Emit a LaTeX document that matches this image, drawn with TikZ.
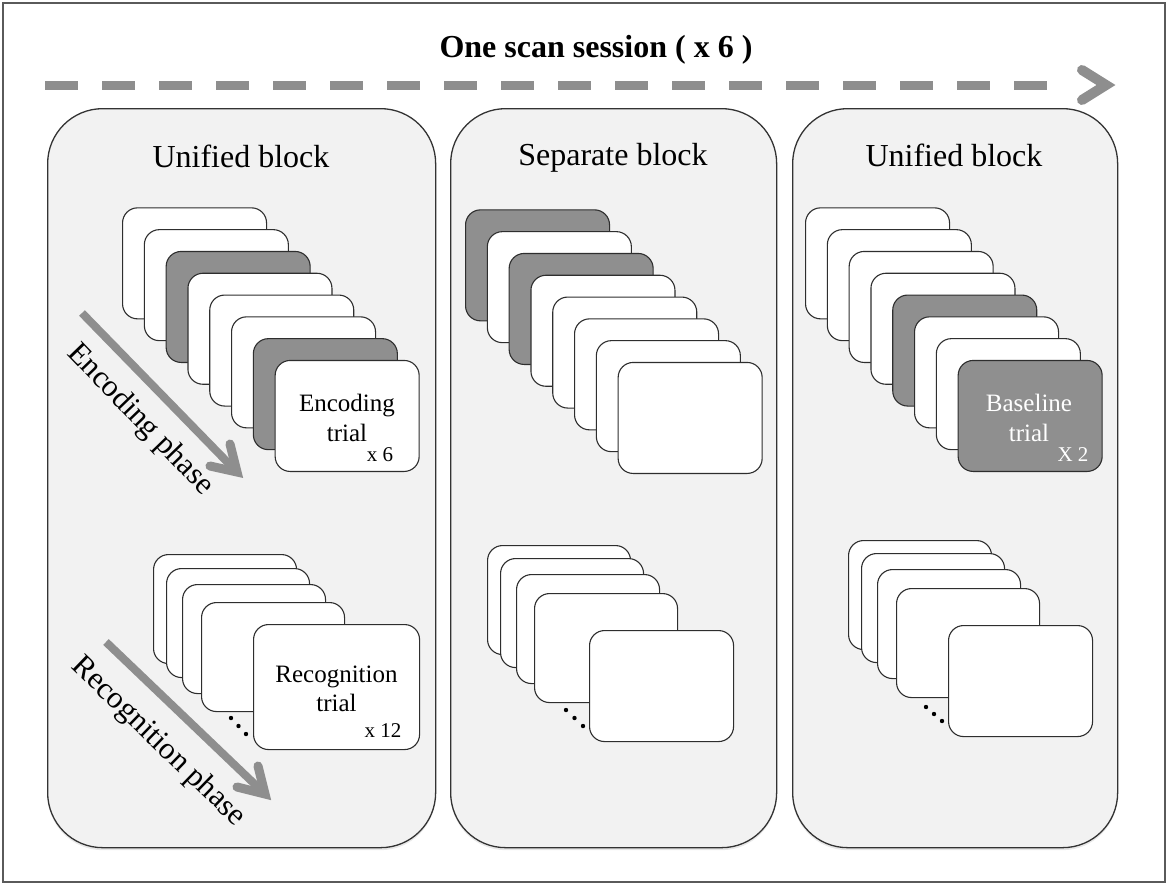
\documentclass[tikz,border=0pt]{standalone}
\usepackage{fontspec}
\setmainfont{Liberation Serif}
\usetikzlibrary{calc,shadows}
\definecolor{panelfill}{HTML}{F2F2F2}
\definecolor{panelline}{HTML}{333333}
\definecolor{cardline}{HTML}{2E2E2E}
\definecolor{cardgray}{HTML}{8F8F8F}
\definecolor{arrowgray}{HTML}{8E8E8E}
\definecolor{framegray}{HTML}{5A5A5A}
\begin{document}
\begin{tikzpicture}[x=1pt,y=-1pt,
  frame/.style={draw=framegray, line width=2pt},
  panel/.style={draw=panelline, line width=1.3pt, fill=panelfill, rounded corners=55pt,
    inner sep=0pt, anchor=north west,
    drop shadow={opacity=0.18, shadow xshift=0pt, shadow yshift=-2.5pt}},
  card/.style={draw=cardline, line width=1.1pt, rounded corners=15pt, minimum width=144pt,
    minimum height=111pt, inner sep=0pt, anchor=north west, fill=white},
  backcard/.style={card, minimum width=143pt, minimum height=109pt},
  bigcard/.style={card, minimum width=166pt, minimum height=125pt},
  graycard/.style={card, fill=cardgray},
  maintitle/.style={font=\fontsize{32}{36}\selectfont\bfseries, inner sep=0pt, anchor=base},
  paneltitle/.style={font=\fontsize{32}{36}\selectfont, inner sep=0pt, anchor=base},
  cardtext/.style={font=\fontsize{25}{28}\selectfont, inner sep=0pt, anchor=base},
  multtext/.style={font=\fontsize{21}{24}\selectfont, inner sep=0pt, anchor=base},
  phasetext/.style={font=\fontsize{31}{34}\selectfont, inner sep=0pt},
  sessline/.style={draw=arrowgray, line width=9pt, dash pattern=on 33pt off 24pt},
  sesshead/.style={draw=arrowgray, line width=10pt, line cap=round, line join=miter},
  phaseline/.style={draw=arrowgray, line width=8pt},
  phasehead/.style={draw=arrowgray, line width=9pt, line cap=round, line join=miter},
  dot/.style={fill=black}
]
\useasboundingbox (0,0) rectangle (1168,884);
\draw[frame] (3,3) rectangle (1165,882);

% title and session arrow
\node[maintitle] (title) at (596,57) {One scan session ( x 6 )};
\coordinate (sessA) at (45,85);
\coordinate (sessB) at (1050,85);
\coordinate (sessTip) at (1106,85);
\draw[sessline] (sessA) -- (sessB);
\draw[sesshead] ($(sessTip)+(-24,-15)$) -- (sessTip) -- ($(sessTip)+(-24,15)$);

% panels
\node[panel, minimum width=388pt, minimum height=739pt] (pan1) at (47,108) {};
\node[panel, minimum width=326pt, minimum height=739pt] (pan2) at (450,108) {};
\node[panel, minimum width=325pt, minimum height=739pt] (pan3) at (792,108) {};
\node[paneltitle] (t1) at (241,167) {Unified block};
\node[paneltitle] (t2) at (613,165) {Separate block};
\node[paneltitle] (t3) at (954,166) {Unified block};

% panel 1 upper stack
\node[card]     (a1) at (122.0,207.3) {};
\node[card]     (a2) at (143.8,229.1) {};
\node[graycard] (a3) at (165.6,250.9) {};
\node[card]     (a4) at (187.4,272.7) {};
\node[card]     (a5) at (209.2,294.5) {};
\node[card]     (a6) at (231.0,316.3) {};
\node[graycard] (a7) at (252.8,338.1) {};
\node[card]     (a8) at (274.6,359.9) {};
\node[cardtext] (a8l1) at (347,411.5) {Encoding};
\node[cardtext] (a8l2) at (347,441.5) {trial};
\node[multtext] (a8l3) at (380,461) {x 6};

% panel 1 lower stack
\node[backcard] (b1) at (153,554) {};
\node[backcard] (b2) at (166,568) {};
\node[backcard] (b3) at (182,584) {};
\node[backcard] (b4) at (201,602) {};
\fill[dot] (231,718) circle (2.2) (238.5,726) circle (2.2) (246,734) circle (2.2);
\node[bigcard] (b5) at (253,624) {};
\node[cardtext] (b5l1) at (336.5,682.5) {Recognition};
\node[cardtext] (b5l2) at (336.5,711.5) {trial};
\node[multtext] (b5l3) at (383,737) {x 12};

% phase arrows
\coordinate (encA) at (82,313);
\coordinate (encB) at (237,472);
\draw[phaseline] (encA) -- (encB);
\draw[phasehead] ($(encB)+(-7,-28)$) -- (encB) -- ($(encB)+(-27,-6)$);
\node[phasetext, rotate=-46] (encph) at (140,420) {Encoding phase};
\coordinate (recA) at (106,642);
\coordinate (recB) at (265,794);
\draw[phaseline] (recA) -- (recB);
\draw[phasehead] ($(recB)+(-7,-28)$) -- (recB) -- ($(recB)+(-28,-7)$);
\node[phasetext, rotate=-44] (recph) at (158,742) {Recognition phase};

% panel 2 upper stack
\node[graycard] (c1) at (465.0,209.3) {};
\node[card]     (c2) at (486.8,231.1) {};
\node[graycard] (c3) at (508.6,252.9) {};
\node[card]     (c4) at (530.4,274.7) {};
\node[card]     (c5) at (552.2,296.5) {};
\node[card]     (c6) at (574.0,318.3) {};
\node[card]     (c7) at (595.8,340.1) {};
\node[card]     (c8) at (617.6,361.9) {};

% panel 2 lower stack
\node[backcard] (d1) at (487,545) {};
\node[backcard] (d2) at (500,558) {};
\node[backcard] (d3) at (516,574) {};
\node[backcard] (d4) at (534,593) {};
\fill[dot] (566,710) circle (2.2) (574.5,718) circle (2.2) (583,726) circle (2.2);
\node[card] (d5) at (589,630) {};

% panel 3 upper stack
\node[card]     (e1) at (805.0,207.3) {};
\node[card]     (e2) at (826.8,229.1) {};
\node[card]     (e3) at (848.6,250.9) {};
\node[card]     (e4) at (870.4,272.7) {};
\node[graycard] (e5) at (892.2,294.5) {};
\node[card]     (e6) at (914.0,316.3) {};
\node[card]     (e7) at (935.8,338.1) {};
\node[graycard] (e8) at (957.6,359.9) {};
\node[cardtext, text=white] (e8l1) at (1029,411.5) {Baseline};
\node[cardtext, text=white] (e8l2) at (1029,441.5) {trial};
\node[multtext, text=white] (e8l3) at (1073,461) {X 2};

% panel 3 lower stack
\node[backcard] (f1) at (848,540) {};
\node[backcard] (f2) at (861,553) {};
\node[backcard] (f3) at (877,569) {};
\node[backcard] (f4) at (896,588) {};
\fill[dot] (926,707) circle (2.2) (934,714) circle (2.2) (942,721) circle (2.2);
\node[card] (f5) at (948,625) {};
\end{tikzpicture}
\end{document}
